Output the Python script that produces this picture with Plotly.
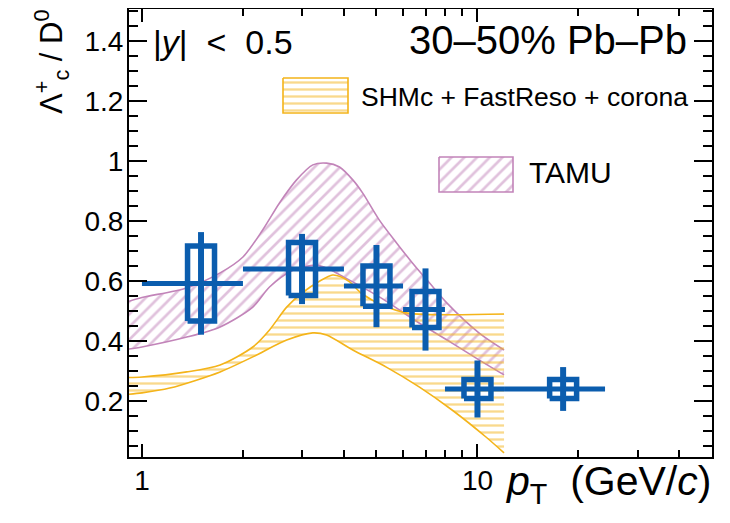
import plotly.graph_objects as go

# ---------------- data ----------------
pt = [1.5, 3.0, 5.0, 7.0, 10.0, 18.0]
pt_lo = [1.0, 2.0, 4.0, 6.0, 8.0, 12.0]
pt_hi = [2.0, 4.0, 6.0, 8.0, 12.0, 24.0]
ratio = [0.592, 0.640, 0.583, 0.505, 0.240, 0.240]
stat = [0.171, 0.117, 0.137, 0.137, 0.095, 0.073]
syst = [0.125, 0.088, 0.067, 0.060, 0.032, 0.032]

tamu_x_hi = [0.9, 1.0, 1.36, 1.71, 2.0, 2.29, 2.57, 2.89, 3.23, 3.55, 3.88, 4.25, 4.55, 5.1, 5.74, 6.4, 7.2, 8.1, 10.1, 12.0]
tamu_hi = [0.53, 0.545, 0.577, 0.627, 0.68, 0.77, 0.86, 0.937, 0.987, 0.993, 0.98, 0.937, 0.893, 0.803, 0.727, 0.66, 0.593, 0.527, 0.427, 0.37]
tamu_x_lo = [0.9, 1.0, 1.36, 1.71, 2.14, 2.4, 2.81, 3.3, 3.6, 4.0, 5.1, 6.7, 8.4, 10.1, 12.0]
tamu_lo = [0.372, 0.38, 0.413, 0.447, 0.513, 0.58, 0.635, 0.653, 0.64, 0.613, 0.547, 0.46, 0.393, 0.337, 0.287]

shm_x_hi = [0.9, 1.0, 1.36, 1.71, 2.14, 2.4, 2.7, 3.0, 3.39, 3.7, 3.9, 4.16, 4.5, 5.2, 6.2, 12.0]
shm_hi = [0.278, 0.28, 0.297, 0.32, 0.38, 0.437, 0.513, 0.56, 0.60, 0.62, 0.615, 0.597, 0.56, 0.52, 0.493, 0.49]
shm_x_lo = [0.9, 1.0, 1.21, 1.71, 2.14, 2.7, 3.23, 3.55, 4.25, 5.35, 6.7, 8.4, 10.6, 12.0]
shm_lo = [0.222, 0.227, 0.243, 0.297, 0.347, 0.403, 0.427, 0.42, 0.37, 0.313, 0.247, 0.17, 0.08, 0.027]

y_tick_first, y_tick_step, y_minor_step = 0.2, 0.2, 0.05

# ---------------- style ----------------
BLUE = "#0B5DAE"
PURPLE = "#C284B9"
YELLOW = "#F4B41A"
FONT = "Liberation Sans, Arial, sans-serif"

# the page shows the figure 8 px in from the top-left corner
OFF = 8
W, H = 730 - OFF, 523 - OFF
L, R, T, B = 129 - OFF, 18, 9 - OFF, 66
PW, PH = W - L - R, H - T - B


def px(xs):  # screen x -> paper
    return (xs - OFF - L) / PW


def py(ys):  # screen y -> paper
    return (H - B - (ys - OFF)) / PH


fig = go.Figure()

# bands (lower edge, then upper edge filled to it)
for xs_hi, ys_hi, xs_lo, ys_lo, col, shape, size, sol in [
    (tamu_x_hi, tamu_hi, tamu_x_lo, tamu_lo, PURPLE, "/", 9, 0.3),
    (shm_x_hi, shm_hi, shm_x_lo, shm_lo, YELLOW, "-", 7, 0.33),
]:
    fig.add_trace(go.Scatter(x=xs_lo, y=ys_lo, mode="lines",
                             line=dict(color=col, width=1.6, shape="spline", smoothing=0.8),
                             showlegend=False, hoverinfo="skip"))
    fig.add_trace(go.Scatter(
        x=xs_hi, y=ys_hi, mode="lines",
        line=dict(color=col, width=1.6, shape="spline", smoothing=0.8),
        fill="tonexty", fillcolor="rgba(0,0,0,0)",
        fillpattern=dict(shape=shape, fgcolor=col, bgcolor="rgba(0,0,0,0)", size=size, solidity=sol),
        showlegend=False, hoverinfo="skip"))

# systematic boxes
hw = 0.0402
bx, by = [], []
for c, v, s in zip(pt, ratio, syst):
    x0, x1 = c / 10 ** hw, c * 10 ** hw
    bx += [x0, x1, x1, x0, x0, None]
    by += [v - s, v - s, v + s, v + s, v - s, None]
fig.add_trace(go.Scatter(x=bx, y=by, mode="lines", line=dict(color=BLUE, width=5.5),
                         showlegend=False, hoverinfo="skip"))

# data points with stat errors
fig.add_trace(go.Scatter(
    x=pt, y=ratio, mode="markers", marker=dict(size=1, color=BLUE),
    error_x=dict(type="data", symmetric=False,
                 array=[h - c for h, c in zip(pt_hi, pt)],
                 arrayminus=[c - l for c, l in zip(pt, pt_lo)],
                 width=0, thickness=5, color=BLUE),
    error_y=dict(type="data", array=stat, width=0, thickness=6, color=BLUE),
    showlegend=False))

# legend boxes on an overlay axis in paper-like units
for (x0, x1, y0, y1), col, shape, size, sol in [
    ((283, 348, 78, 113), YELLOW, "-", 7, 0.33),
    ((439, 513, 157, 192), PURPLE, "/", 9, 0.3),
]:
    fig.add_trace(go.Scatter(
        x=[px(x0), px(x1), px(x1), px(x0), px(x0)],
        y=[py(y0), py(y0), py(y1), py(y1), py(y0)],
        mode="lines", line=dict(color=col, width=1.6),
        fill="toself", fillcolor="rgba(0,0,0,0)",
        fillpattern=dict(shape=shape, fgcolor=col, bgcolor="rgba(0,0,0,0)", size=size, solidity=sol),
        xaxis="x2", yaxis="y2", showlegend=False, hoverinfo="skip"))

axis_common = dict(showline=True, linecolor="black", linewidth=2, mirror="ticks",
                   ticks="inside", tickcolor="black", tickwidth=2, showgrid=False, zeroline=False,
                   tickfont=dict(family=FONT, size=28, color="black"))

fig.update_layout(
    width=W, height=H, margin=dict(l=L, r=R, t=T, b=B, autoexpand=False),
    paper_bgcolor="white", plot_bgcolor="white", showlegend=False,
    xaxis=dict(type="log", range=[-0.0386, 1.699], tickmode="linear", tick0=0, dtick=1,
               ticklen=13, ticklabelstandoff=-3,
               minor=dict(dtick="D1", ticklen=7, tickwidth=2, tickcolor="black", ticks="inside"),
               **axis_common),
    yaxis=dict(range=[0.0133, 1.5067], tickmode="linear", tick0=y_tick_first, dtick=y_tick_step,
               ticklen=18, ticklabelstandoff=-2,
               minor=dict(tick0=0, dtick=y_minor_step, ticklen=9, tickwidth=2, tickcolor="black", ticks="inside"),
               **axis_common),
    xaxis2=dict(overlaying="x", range=[0, 1], visible=False, anchor="y2"),
    yaxis2=dict(overlaying="y", range=[0, 1], visible=False, anchor="x2"),
)

ann = [
    dict(text="|<i>y</i>|&nbsp; &lt;&nbsp; 0.5", x=px(151), y=py(42), xanchor="left", yanchor="middle", size=34),
    dict(text="30–50% Pb–Pb", x=px(689), y=py(40), xanchor="right", yanchor="middle", size=40),
    dict(text="SHMc + FastReso + corona", x=px(359), y=py(97), xanchor="left", yanchor="middle", size=26.5),
    dict(text="TAMU", x=px(527), y=py(172), xanchor="left", yanchor="middle", size=30),
    dict(text="<i>p</i><sub>T</sub>&nbsp; (GeV/<i>c</i>)", x=px(713), y=py(484), xanchor="right", yanchor="middle", size=41),
]
for a in ann:
    fig.add_annotation(text=a["text"], xref="paper", yref="paper", x=a["x"], y=a["y"],
                       xanchor=a["xanchor"], yanchor=a["yanchor"], showarrow=False,
                       font=dict(family=FONT, size=a["size"], color="black"))

fig.add_annotation(text="Λ<sup>+</sup><sub>c</sub> / D<sup>0</sup>", xref="paper", yref="paper",
                   x=px(52), y=py(62), xanchor="center", yanchor="middle", textangle=-90,
                   showarrow=False, font=dict(family=FONT, size=31, color="black"))

fig.write_html("out.html")
